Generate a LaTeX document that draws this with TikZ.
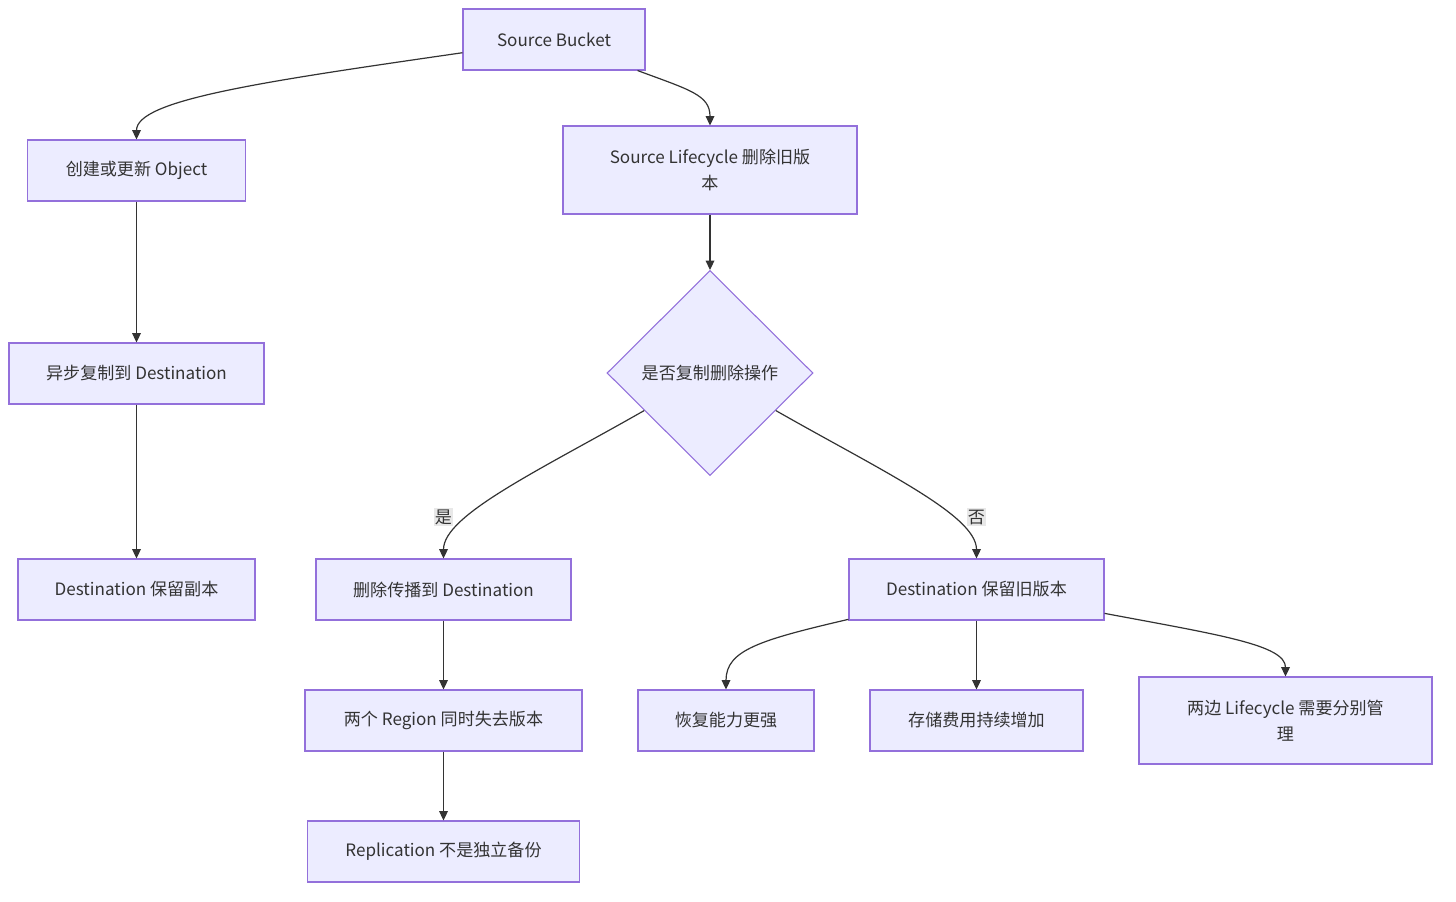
\documentclass[tikz,border=0pt]{standalone}
\usepackage{fontspec}
\setmainfont{Noto Sans CJK SC}
\usetikzlibrary{arrows.meta,shapes.geometric}
\definecolor{boxfill}{HTML}{ECECFF}
\definecolor{boxline}{HTML}{9370DB}
\definecolor{ink}{HTML}{333333}

\begin{document}
\begin{tikzpicture}[x=0.75pt, y=-0.75pt, >={Triangle[length=7pt,width=6.5pt]},
  box/.style={draw=boxline, fill=boxfill, line width=0.8pt, text=ink,
    minimum height=45.75pt, inner sep=0pt, align=center, font=\fontsize{12.8}{19.5}\selectfont},
  choice/.style={box, diamond, minimum width=154.5pt, minimum height=153.75pt},
  lbl/.style={fill=black!9, text=ink, inner sep=1pt, font=\fontsize{12.8}{14}\selectfont},
  edge/.style={->, draw=ink, line width=0.9pt}]
  \useasboundingbox (0,0) rectangle (1456,901);

  % nodes
  \node[box, minimum width=136.5pt] (src) at (554,39.5) {Source Bucket};
  \node[box, minimum width=163.5pt] (obj) at (136.5,170.5) {创建或更新 Object};
  \node[box, minimum width=220.5pt, minimum height=66pt] (lc) at (710,170) {Source Lifecycle 删除旧版\\本};
  \node[choice] (ask) at (710,373) {是否复制删除操作};
  \node[box, minimum width=191.25pt] (repl) at (136.5,373.5) {异步复制到 Destination};
  \node[box, minimum width=177.75pt] (keep) at (136.5,589.5) {Destination 保留副本};
  \node[box, minimum width=191.25pt] (prop) at (443.5,589.5) {删除传播到 Destination};
  \node[box, minimum width=191.25pt] (old) at (976.5,589.5) {Destination 保留旧版本};
  \node[box, minimum width=207.75pt] (lose) at (443.5,720.5) {两个 Region 同时失去版本};
  \node[box, minimum width=204pt] (notbk) at (443.5,851.5) {Replication 不是独立备份};
  \node[box, minimum width=132pt] (rec) at (726,720.5) {恢复能力更强};
  \node[box, minimum width=159.75pt] (cost) at (976.5,720.5) {存储费用持续增加};
  \node[box, minimum width=219.75pt, minimum height=65.25pt] (both) at (1285.5,720.5) {两边 Lifecycle 需要分别管\\理};

  % connectors
  \draw[edge] (src) .. controls (260,82) and (136.5,100) .. (obj);
  \draw[edge] (src) .. controls (690,90) and (710,95) .. (lc);
  \draw[edge] (obj) -- (repl);
  \draw[edge] (repl) -- (keep);
  \draw[edge] (lc) -- (ask);
  \draw[edge] (ask) .. controls (540,470) and (443.5,515) .. (prop);
  \draw[edge] (ask) .. controls (880,470) and (976.5,515) .. (old);
  \draw[edge] (prop) -- (lose);
  \draw[edge] (lose) -- (notbk);
  \draw[edge] (old) .. controls (760,640) and (726,650) .. (rec);
  \draw[edge] (old) -- (cost);
  \draw[edge] (old) .. controls (1220,635) and (1285.5,645) .. (both);

  % edge labels
  \node[lbl] (yes) at (443.5,517) {是};
  \node[lbl] (no) at (976.5,517) {否};
\end{tikzpicture}
\end{document}
